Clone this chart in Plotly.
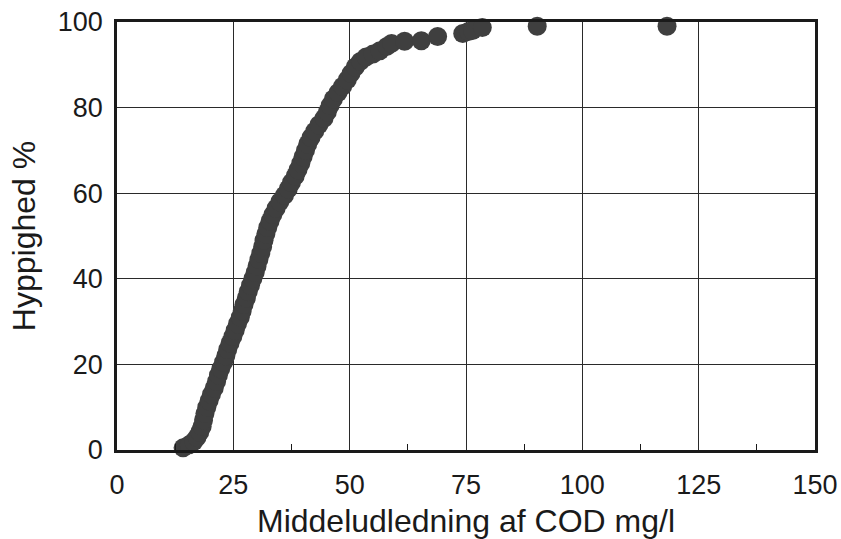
import plotly.graph_objects as go

# Cumulative frequency (Hyppighed %) vs mean discharge of COD (mg/l)
cod_mg_l = [
    14.2, 15.5, 16.5, 17.2, 17.8, 18.3, 18.6, 18.9, 19.3, 19.8,
    20.3, 20.9, 21.4, 21.8, 22.3, 22.9, 23.4, 23.8, 24.3, 24.9,
    25.4, 25.9, 26.5, 26.9, 27.3, 27.8, 28.2, 28.7, 29.2, 29.7,
    30.1, 30.5, 30.9, 31.3, 31.6, 32.0, 32.4, 32.9, 33.5, 34.2,
    35.0, 36.0, 36.8, 37.5, 38.3, 38.9, 39.5, 40.0, 40.5, 41.0,
    41.7, 42.5, 43.4, 44.5, 45.2, 45.8, 46.5, 47.5, 48.5, 49.5,
    50.3, 51.2, 52.3, 53.5, 55.0, 56.5, 58.0, 59.0, 61.8, 65.4,
    68.9, 74.3, 75.5, 76.4, 78.5, 90.3, 118.2,
]
hyppighed_pct = [
    0.5, 1.2, 2.0, 3.0, 4.2, 5.5, 7.0, 8.5, 10.0, 11.5,
    13.0, 14.5, 16.0, 17.5, 19.0, 20.5, 22.0, 23.5, 25.0, 26.5,
    28.0, 29.5, 31.0, 32.5, 34.0, 35.5, 37.0, 38.5, 40.0, 41.5,
    43.0, 44.5, 46.0, 47.5, 49.0, 50.5, 52.0, 53.5, 55.0, 56.5,
    58.0, 59.5, 61.0, 62.5, 64.0, 65.5, 67.0, 68.5, 70.0, 71.5,
    73.0, 74.5, 76.0, 77.5, 79.0, 80.5, 82.0, 83.5, 85.0, 86.5,
    88.0, 89.5, 90.8, 91.8, 92.5, 93.3, 94.3, 95.0, 95.5, 95.6,
    96.6, 97.3, 97.8, 98.0, 98.7, 99.0, 99.0,
]

x_ticks = [0, 25, 50, 75, 100, 125, 150]
y_ticks = [0, 20, 40, 60, 80, 100]

FONT = "Liberation Sans, Arial, sans-serif"

fig = go.Figure()
fig.add_trace(go.Scatter(
    x=cod_mg_l, y=hyppighed_pct, mode="markers",
    marker=dict(size=19, color="#3f3f3f", line=dict(width=0)),
    cliponaxis=False, showlegend=False,
))

fig.update_layout(
    width=841, height=539,
    margin=dict(l=117, r=26, t=22, b=89),
    paper_bgcolor="white", plot_bgcolor="white",
    font=dict(family=FONT, color="#1a1a1a"),
)
fig.update_xaxes(
    range=[0, 150], tickvals=x_ticks, ticktext=[str(v) for v in x_ticks],
    showgrid=True, gridcolor="#2a2a2a", gridwidth=1.2,
    showline=True, mirror=True, linecolor="#1a1a1a", linewidth=2.5,
    ticks="", ticklabelstandoff=9, zeroline=False, automargin=False,
    tickfont=dict(size=27),
    minor=dict(tickvals=[12.5, 37.5, 62.5, 87.5, 112.5, 137.5], ticks="inside",
               ticklen=6, tickcolor="#1a1a1a", tickwidth=1.2, showgrid=False),
    title=dict(text="Middeludledning af COD mg/l", font=dict(size=32), standoff=14),
)
fig.update_yaxes(
    range=[0, 100], tickvals=y_ticks, ticktext=[str(v) for v in y_ticks],
    showgrid=True, gridcolor="#2a2a2a", gridwidth=1.2,
    showline=True, mirror=True, linecolor="#1a1a1a", linewidth=2.5,
    ticks="", ticklabelstandoff=6, zeroline=False, automargin=False,
    tickfont=dict(size=27),
    title=dict(text="Hyppighed %", font=dict(size=32), standoff=13),
)

fig.write_html("out.html")
